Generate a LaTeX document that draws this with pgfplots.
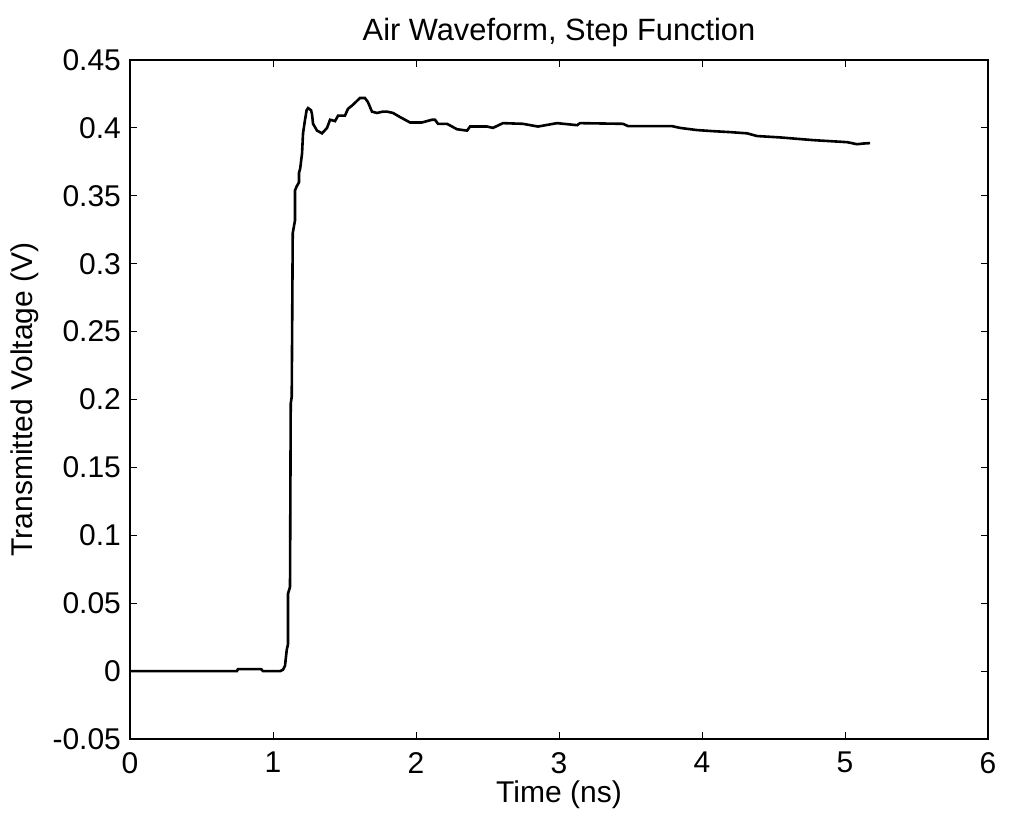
\documentclass[border=0pt]{standalone}
\usepackage{fontspec}
\setmainfont{Liberation Sans}
\usepackage{pgfplots}
\pgfplotsset{compat=1.18}

\begin{document}
\begin{tikzpicture}
\begin{axis}[
    width=429pt,
    height=339.5pt,
    scale only axis,
    xmin=0, xmax=6,
    ymin=-0.05, ymax=0.45,
    xtick={0,1,...,6},
    ytick={-0.05,0,0.05,0.1,0.15,0.2,0.25,0.3,0.35,0.4,0.45},
    yticklabels={-0.05,0,0.05,0.1,0.15,0.2,0.25,0.3,0.35,0.4,0.45},
    xticklabels={0,1,2,3,4,5,6},
    tick align=inside,
    major tick length=3.5pt,
    every tick/.style={black, line width=0.5pt},
    axis line style={line width=0.6pt},
    tick label style={font=\fontsize{15}{17}\selectfont},
    /pgf/number format/assume math mode=true,
    xticklabel style={yshift=-3pt},
    yticklabel style={xshift=-1pt},
    label style={font=\fontsize{15}{17}\selectfont},
    title style={font=\fontsize{15.4}{17}\selectfont, at={(0.5,1)}, anchor=center, yshift=7.5pt},
    title={Air Waveform, Step Function},
    xlabel={Time (ns)},
    xlabel style={at={(0.5,0)}, anchor=center, yshift=-28pt},
    ylabel={Transmitted Voltage (V)},
    ylabel style={at={([xshift=-52.5pt]axis description cs:0,0.5)}, anchor=center},
    clip=false,
]
\addplot[black, line width=1.3pt] coordinates {
    (0,0) (0.748,0) (0.755,0.0015) (0.916,0.0015) (0.93,0) (1.05,0)
    (1.07,0.001) (1.084,0.004) (1.096,0.0155) (1.105,0.02) (1.105,0.057)
    (1.119,0.062) (1.124,0.197) (1.131,0.202) (1.138,0.3225) (1.154,0.332)
    (1.154,0.354) (1.166,0.357) (1.182,0.36) (1.182,0.367) (1.19,0.37)
    (1.203,0.381) (1.21,0.396) (1.224,0.406) (1.235,0.413) (1.245,0.4146)
    (1.266,0.413) (1.273,0.41) (1.28,0.403) (1.308,0.398) (1.343,0.396)
    (1.378,0.400) (1.399,0.406) (1.434,0.405) (1.455,0.409) (1.503,0.409)
    (1.524,0.414) (1.559,0.417) (1.608,0.422) (1.643,0.422) (1.664,0.419)
    (1.692,0.412) (1.727,0.411) (1.769,0.412) (1.797,0.412) (1.839,0.411)
    (1.888,0.408) (1.958,0.404) (2.042,0.404) (2.112,0.406) (2.133,0.406)
    (2.154,0.403) (2.217,0.403) (2.287,0.399) (2.357,0.398) (2.378,0.401)
    (2.497,0.401) (2.538,0.400) (2.608,0.4035) (2.748,0.403) (2.853,0.401)
    (2.986,0.4035) (3.126,0.402) (3.147,0.4035) (3.448,0.403) (3.483,0.4013)
    (3.790,0.4013) (3.846,0.400) (3.965,0.3984) (4.077,0.3976) (4.196,0.3969)
    (4.315,0.396) (4.385,0.394) (4.545,0.393) (4.776,0.391) (5.014,0.3895)
    (5.084,0.388) (5.130,0.3885) (5.175,0.3888)
};
\coordinate (sw) at (rel axis cs:0,0);
\coordinate (ne) at (rel axis cs:1,1);
\end{axis}
\pgfresetboundingbox
\path ([shift={(-65pt,-41.5pt)}]sw) rectangle ([shift={(11pt,30pt)}]ne);
\end{tikzpicture}
\end{document}
